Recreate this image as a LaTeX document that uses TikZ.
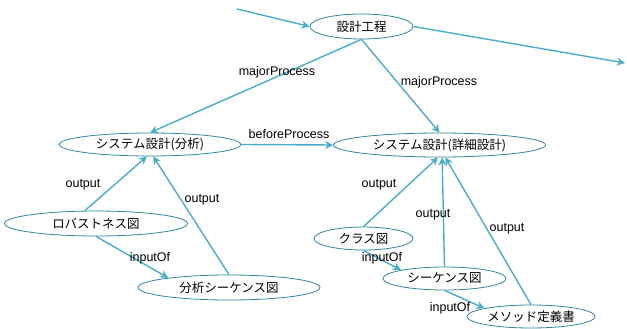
\documentclass[tikz,border=0pt]{standalone}
\usepackage{fontspec}
\setmainfont{Liberation Sans}
\newfontfamily\jpfont{Noto Sans CJK JP}
\usetikzlibrary{shapes.geometric,arrows.meta}
\definecolor{rim}{HTML}{31849B}
\definecolor{link}{HTML}{4BACC6}
\tikzset{
  concept/.style={ellipse, draw=rim, line width=0.8pt, inner sep=0pt,
    font=\jpfont\fontsize{12.5}{14}\selectfont},
  rel/.style={draw=link, line width=1.4pt, -{Stealth[length=8pt,width=8pt]}},
  lbl/.style={inner sep=0pt, font=\fontsize{12.5}{14}\selectfont}
}
\begin{document}
\begin{tikzpicture}[x=1pt,y=-1pt]
\useasboundingbox (0,0) rectangle (627,329);

% concepts
\node[concept, minimum width=103pt, minimum height=25pt] (proc) at (361.5,26.5) {設計工程};
\node[concept, minimum width=182pt, minimum height=23pt] (ana) at (150,144.5) {システム設計(分析)};
\node[concept, minimum width=212pt, minimum height=24pt] (det) at (439.5,145) {システム設計(詳細設計)};
\node[concept, minimum width=183pt, minimum height=25pt] (rob) at (96,223.5) {ロバストネス図};
\node[concept, minimum width=182pt, minimum height=25pt] (aseq) at (229,287.5) {分析シーケンス図};
\node[concept, minimum width=99pt, minimum height=23pt] (cls) at (363.5,238.5) {クラス図};
\node[concept, minimum width=123pt, minimum height=23pt] (seq) at (444.5,278.5) {シーケンス図};
\node[concept, minimum width=128pt, minimum height=23pt] (meth) at (531,316.5) {メソッド定義書};

% free ends
\coordinate (inend) at (237,9);
\coordinate (outend) at (625,63);

% relations
\draw[rel] (inend) -- (proc.west);
\draw[rel] (proc.east) -- (outend);
\draw[rel] (proc.south) -- (ana.north);
\draw[rel] (proc.south) -- (det.north);
\draw[rel] (ana.east) -- (det.west);
\draw[rel] (rob.131) -- (ana.255);
\draw[rel] (aseq.north) -- (ana.285);
\draw[rel] (rob.south) -- (aseq.171);
\draw[rel] (cls.north) -- (det.263);
\draw[rel] (seq.north) -- (det.282);
\draw[rel] (meth.north) -- (det.295);
\draw[rel] (cls.south) -- (seq.169);
\draw[rel] (seq.south) -- (meth.170);

% relation labels
\node[lbl] (l1) at (277,72) {majorProcess};
\node[lbl] (l2) at (439,82) {majorProcess};
\node[lbl] (l3) at (289,134) {beforeProcess};
\node[lbl] (l4) at (83,185) {output};
\node[lbl] (l5) at (202,200) {output};
\node[lbl] (l6) at (150,258) {inputOf};
\node[lbl] (l7) at (379,185) {output};
\node[lbl] (l8) at (433,215) {output};
\node[lbl] (l9) at (507,229) {output};
\node[lbl] (l10) at (382,258) {inputOf};
\node[lbl] (l11) at (450,308) {inputOf};
\end{tikzpicture}
\end{document}
